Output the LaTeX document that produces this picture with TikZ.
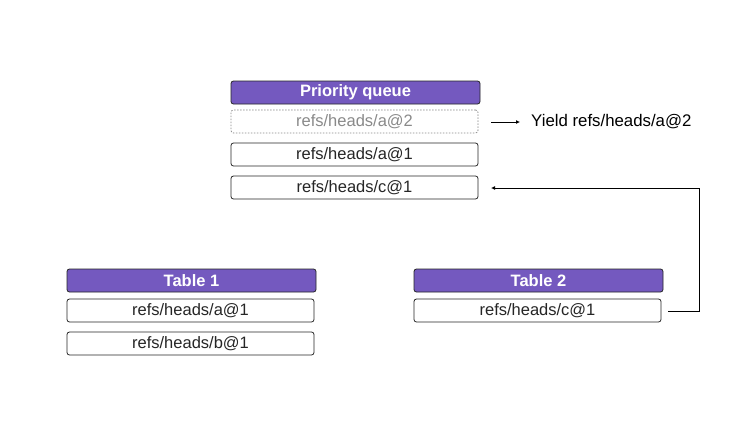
\documentclass[tikz,border=0pt]{standalone}
\usepackage{fontspec}
\setmainfont{Liberation Sans}
\usetikzlibrary{arrows.meta}
\definecolor{qpurple}{HTML}{7459BF}
\definecolor{ghost}{HTML}{8A8A8A}
\tikzset{
  hdr/.style={draw=black!85, fill=qpurple, rounded corners=2.5pt, line width=0.8pt,
    minimum width=249pt, minimum height=23pt, inner sep=0pt,
    text=white, font=\fontsize{16.5}{18}\selectfont\bfseries},
  item/.style={draw=black!85, fill=white, rounded corners=2.5pt, line width=0.8pt,
    minimum width=247pt, minimum height=23pt, inner sep=0pt,
    text=black!85, font=\fontsize{16.5}{18}\selectfont},
  ghostitem/.style={item, draw=ghost, dashed, dash pattern=on 1.5pt off 1.5pt, text=ghost},
  conn/.style={draw=black, line width=0.8pt, -{Latex[length=4pt,width=4pt]}},
  lbl/.style={text=black, font=\fontsize{16.8}{18}\selectfont, inner sep=0pt, anchor=west}
}
\begin{document}
\begin{tikzpicture}[x=1pt,y=-1pt]
\useasboundingbox[fill=white] (0,0) rectangle (744,421);
% priority queue
\node[hdr] (pq) at (355.5,92.5) {Priority queue};
\node[ghostitem] (pa2) at (354.5,121.5) {refs/heads/a@2};
\node[item] (pa1) at (354.5,154.5) {refs/heads/a@1};
\node[item] (pc1) at (354.5,187.5) {refs/heads/c@1};
% yield
\coordinate (ys) at (491,122);
\node[lbl] (yield) at (531,122) {Yield refs/heads/a@2};
\draw[conn] (ys) -- ++(29,0);
% table 1
\node[hdr] (t1) at (191.5,280.5) {Table 1};
\node[item] (t1a) at (190.5,310.5) {refs/heads/a@1};
\node[item] (t1b) at (190.5,343.5) {refs/heads/b@1};
% table 2
\node[hdr] (t2) at (538.5,280.5) {Table 2};
\node[item] (t2c) at (537.5,310.5) {refs/heads/c@1};
% connector
\coordinate (cs) at (668,311);
\coordinate (ce) at (491,188);
\draw[conn] (cs) -- (699,311) -- (699,188) -- (ce);
\end{tikzpicture}
\end{document}
